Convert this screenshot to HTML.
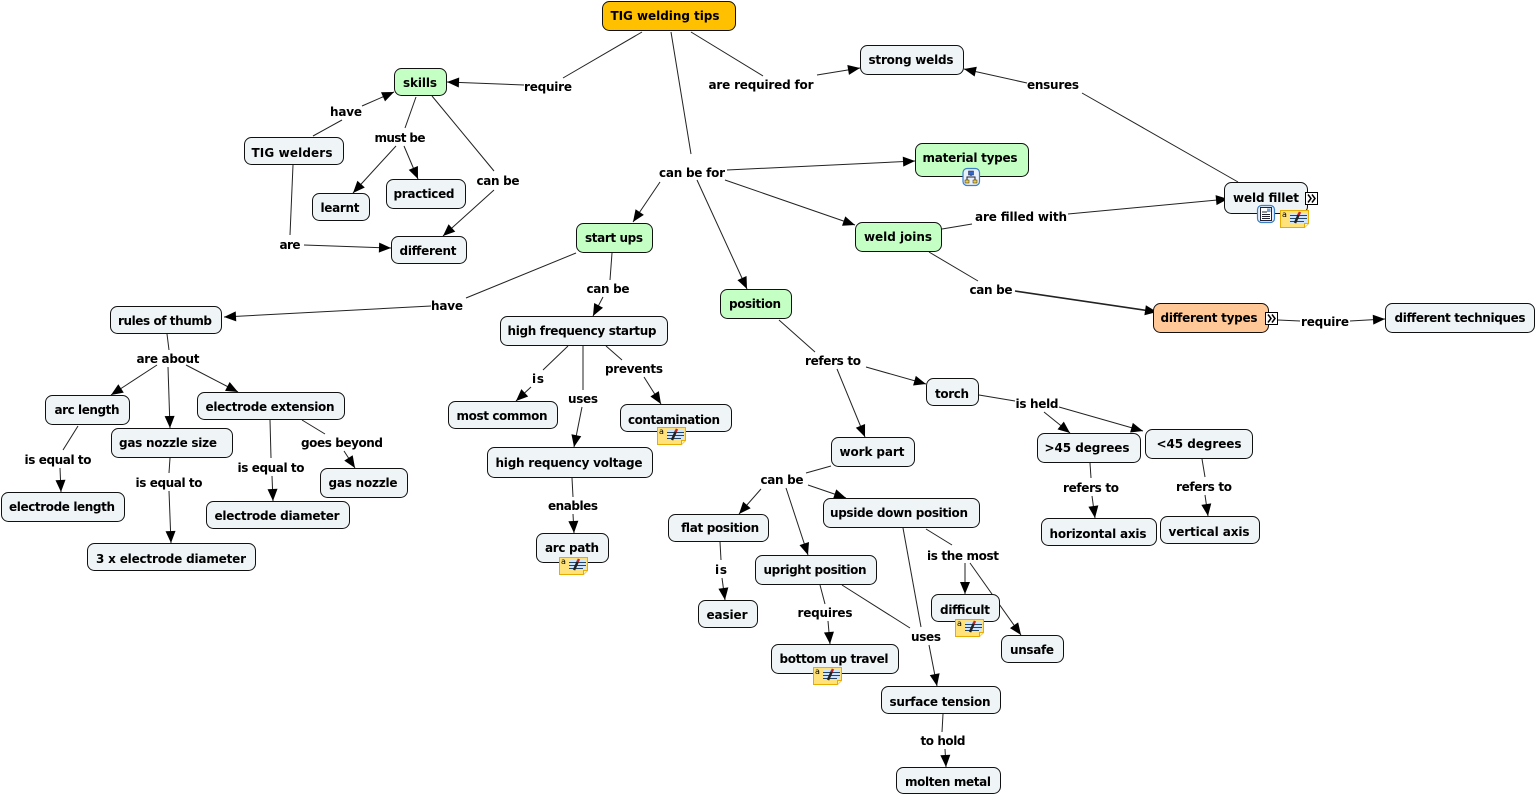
<!DOCTYPE html>
<html><head><meta charset="utf-8"><style>
html,body{margin:0;padding:0;background:#fff;width:1537px;height:795px;overflow:hidden}
svg{display:block}
.n rect{fill:#eff5f7;stroke:#111;stroke-width:1}
.g rect{fill:#c4ffc4}
text{font-family:"DejaVu Sans","Liberation Sans",sans-serif;font-weight:bold;font-size:12px;fill:#000;text-anchor:middle}
.l line{stroke:#222;stroke-width:1;marker-end:none}
.a line{stroke:#222;stroke-width:1;marker-end:url(#ar)}
</style></head><body>
<svg width="1537" height="795" viewBox="0 0 1537 795" xmlns="http://www.w3.org/2000/svg">
<defs>
<marker id="ar" markerUnits="userSpaceOnUse" markerWidth="14" markerHeight="12" refX="13" refY="6" orient="auto"><path d="M1,1 L13,6 L1,11 Z" fill="#000"/></marker>
<g id="note"><path d="M0.5,1.5h28v13l-4,4h-24z" fill="#ffe27a" stroke="#e8ac00"/><path d="M24.5,18.5v-4h4" fill="#fff3c0" stroke="#e8ac00"/><rect x="10" y="4" width="17" height="10" fill="#cfe4ff"/><path d="M10,6.5H27M10,9.5H27M10,12.5H24" stroke="#246" stroke-width="1"/><path d="M15,14L19,5" stroke="#222" stroke-width="2.5"/><path d="M18.5,6L20,3" stroke="#c22" stroke-width="2.5"/><text x="4.5" y="8" style="font-size:8px;font-weight:normal">a</text></g>
<g id="exp"><rect x="0.5" y="0.5" width="12" height="12" fill="#fff" stroke="#000"/><path d="M3,2.5L6,6.5L3,10.5M7,2.5L10,6.5L7,10.5" fill="none" stroke="#000" stroke-width="1.5"/></g>
</defs>
<g class="l">
<line x1="642" y1="32" x2="563" y2="78"/><line x1="691" y1="32" x2="763" y2="76"/><line x1="671" y1="32" x2="691" y2="154"/>
<line x1="313" y1="136" x2="342" y2="120"/><line x1="293" y1="165" x2="290" y2="235"/>
<line x1="416" y1="97" x2="405" y2="128"/><line x1="432" y1="96" x2="494" y2="171"/>
<line x1="1238" y1="182" x2="1082" y2="93"/><line x1="942" y1="229" x2="972" y2="224"/><line x1="929" y1="252" x2="978" y2="281"/>
<line x1="1278" y1="320" x2="1300" y2="321"/><line x1="576" y1="253" x2="466" y2="298"/><line x1="612" y1="253" x2="610" y2="280"/>
<line x1="167" y1="334" x2="169" y2="350"/><line x1="78" y1="426" x2="63" y2="450"/><line x1="170" y1="458" x2="169" y2="473"/>
<line x1="270" y1="420" x2="271" y2="458"/><line x1="302" y1="420" x2="325" y2="434"/><line x1="568" y1="346" x2="543" y2="370"/>
<line x1="583" y1="346" x2="583" y2="390"/><line x1="606" y1="346" x2="622" y2="360"/><line x1="572" y1="478" x2="573" y2="497"/>
<line x1="779" y1="320" x2="815" y2="352"/><line x1="979" y1="395" x2="1015" y2="401"/><line x1="1090" y1="463" x2="1091" y2="478"/>
<line x1="1202" y1="459" x2="1205" y2="477"/><line x1="831" y1="466" x2="806" y2="473"/><line x1="720" y1="542" x2="721" y2="560"/>
<line x1="903" y1="528" x2="921" y2="627"/><line x1="926" y1="529" x2="952" y2="545"/><line x1="842" y1="585" x2="910" y2="628"/>
<line x1="820" y1="585" x2="825" y2="604"/><line x1="943" y1="714" x2="942" y2="732"/>
</g>
<g class="a">
<line x1="524" y1="85" x2="447" y2="82"/><line x1="817" y1="75" x2="860" y2="68"/><line x1="727" y1="170" x2="915" y2="161"/>
<line x1="660" y1="182" x2="633" y2="222"/><line x1="725" y1="180" x2="855" y2="225"/><line x1="697" y1="180" x2="747" y2="289"/>
<line x1="362" y1="106" x2="394" y2="92"/><line x1="304" y1="245" x2="391" y2="248"/><line x1="396" y1="146" x2="353" y2="193"/>
<line x1="404" y1="146" x2="418" y2="179"/><line x1="494" y1="190" x2="443" y2="236"/><line x1="1027" y1="83" x2="964" y2="69"/>
<line x1="1068" y1="214" x2="1228" y2="199"/><line x1="1015" y1="291" x2="1157" y2="312" style="stroke-width:1.6"/><line x1="1350" y1="321" x2="1385" y2="319"/>
<line x1="431" y1="306" x2="224" y2="317"/><line x1="603" y1="297" x2="593" y2="316"/><line x1="157" y1="365" x2="111" y2="395"/>
<line x1="168" y1="367" x2="170" y2="428"/><line x1="186" y1="365" x2="238" y2="392"/><line x1="60" y1="468" x2="61" y2="492"/>
<line x1="169" y1="491" x2="171" y2="543"/><line x1="272" y1="476" x2="273" y2="501"/><line x1="344" y1="451" x2="355" y2="468"/>
<line x1="531" y1="387" x2="516" y2="401"/><line x1="582" y1="407" x2="574" y2="447"/><line x1="644" y1="377" x2="661" y2="404"/>
<line x1="573" y1="514" x2="574" y2="533"/><line x1="866" y1="367" x2="926" y2="384"/><line x1="837" y1="369" x2="865" y2="437"/>
<line x1="1044" y1="412" x2="1070" y2="433"/><line x1="1059" y1="407" x2="1143" y2="431"/><line x1="1092" y1="496" x2="1095" y2="518"/>
<line x1="1205" y1="495" x2="1208" y2="516"/><line x1="761" y1="489" x2="739" y2="514"/><line x1="786" y1="488" x2="808" y2="555"/>
<line x1="808" y1="485" x2="846" y2="498"/><line x1="722" y1="578" x2="725" y2="600"/><line x1="965" y1="563" x2="965" y2="594"/>
<line x1="970" y1="563" x2="1021" y2="635"/><line x1="828" y1="621" x2="830" y2="644"/><line x1="929" y1="645" x2="937" y2="686"/>
<line x1="945" y1="749" x2="946" y2="767"/>
</g>
<g class="n">
<rect x="602.5" y="1.5" width="133" height="29" rx="7" style="fill:#ffc000"/>
<g class="g"><rect x="394.5" y="68.5" width="52" height="27" rx="7"/><rect x="915.5" y="143.5" width="113" height="33" rx="7"/><rect x="576.5" y="223.5" width="76" height="29" rx="7"/><rect x="855.5" y="222.5" width="86" height="29" rx="7"/><rect x="720.5" y="289.5" width="71" height="29" rx="7"/></g>
<rect x="1153.5" y="303.5" width="115" height="29" rx="7" style="fill:#ffc896"/>
<rect x="860.5" y="45.5" width="103" height="29" rx="7"/><rect x="1224.5" y="182.5" width="83" height="31" rx="7"/><rect x="244.5" y="137.5" width="99" height="27" rx="7"/>
<rect x="312.5" y="193.5" width="57" height="27" rx="7"/><rect x="386.5" y="179.5" width="79" height="29" rx="7"/><rect x="391.5" y="236.5" width="75" height="27" rx="7"/>
<rect x="1385.5" y="303.5" width="149" height="29" rx="7"/><rect x="110.5" y="306.5" width="111" height="27" rx="7"/><rect x="500.5" y="316.5" width="167" height="29" rx="7"/>
<rect x="45.5" y="395.5" width="84" height="29" rx="7"/><rect x="197.5" y="392.5" width="147" height="27" rx="7"/><rect x="111.5" y="428.5" width="121" height="29" rx="7"/>
<rect x="448.5" y="401.5" width="109" height="27" rx="7"/><rect x="620.5" y="404.5" width="111" height="27" rx="7"/><rect x="487.5" y="447.5" width="165" height="30" rx="7"/>
<rect x="926.5" y="378.5" width="52" height="27" rx="7"/><rect x="1037.5" y="433.5" width="103" height="29" rx="7"/><rect x="1145.5" y="429.5" width="107" height="29" rx="7"/>
<rect x="831.5" y="437.5" width="83" height="29" rx="7"/><rect x="1.5" y="492.5" width="123" height="29" rx="7"/><rect x="320.5" y="468.5" width="87" height="29" rx="7"/>
<rect x="206.5" y="501.5" width="143" height="27" rx="7"/><rect x="87.5" y="543.5" width="168" height="27" rx="7"/><rect x="536.5" y="533.5" width="72" height="29" rx="7"/>
<rect x="668.5" y="514.5" width="100" height="27" rx="7"/><rect x="823.5" y="498.5" width="156" height="29" rx="7"/><rect x="1041.5" y="518.5" width="115" height="27" rx="7"/>
<rect x="1160.5" y="516.5" width="99" height="27" rx="7"/><rect x="755.5" y="555.5" width="121" height="29" rx="7"/><rect x="698.5" y="600.5" width="59" height="27" rx="7"/>
<rect x="931.5" y="594.5" width="68" height="27" rx="7"/><rect x="1001.5" y="635.5" width="62" height="27" rx="7"/><rect x="771.5" y="644.5" width="127" height="29" rx="7"/>
<rect x="881.5" y="686.5" width="119" height="27" rx="7"/><rect x="896.5" y="767.5" width="104" height="26" rx="7"/>
</g>
<g>
<text x="665" y="20" textLength="109">TIG welding tips</text><text x="420" y="87" textLength="34">skills</text><text x="911" y="64" textLength="85">strong welds</text><text x="970" y="162" textLength="95">material types</text>
<text x="1266" y="202" textLength="66">weld fillet</text><text x="292" y="157" textLength="81">TIG welders</text><text x="340" y="212" textLength="39">learnt</text><text x="424" y="198" textLength="61">practiced</text>
<text x="428" y="255" textLength="57">different</text><text x="614" y="242" textLength="58">start ups</text><text x="898" y="241" textLength="68">weld joins</text><text x="755" y="308" textLength="52">position</text>
<text x="1209" y="322" textLength="97">different types</text><text x="1460" y="322" textLength="131">different techniques</text><text x="165" y="325" textLength="94">rules of thumb</text><text x="582" y="335" textLength="149">high frequency startup</text>
<text x="87" y="414" textLength="65">arc length</text><text x="270" y="411" textLength="129">electrode extension</text><text x="168" y="447" textLength="98">gas nozzle size</text><text x="502" y="420" textLength="91">most common</text>
<text x="674" y="424" textLength="92">contamination</text><text x="569" y="467" textLength="147">high requency voltage</text><text x="952" y="398" textLength="34">torch</text><text x="1087" y="452" textLength="85">&gt;45 degrees</text>
<text x="1199" y="448" textLength="85">&lt;45 degrees</text><text x="872" y="456" textLength="65">work part</text><text x="62" y="511" textLength="106">electrode length</text><text x="363" y="487" textLength="69">gas nozzle</text>
<text x="277" y="520" textLength="125">electrode diameter</text><text x="171" y="563" textLength="150">3 x electrode diameter</text><text x="572" y="552" textLength="54">arc path</text><text x="720" y="532" textLength="78">flat position</text>
<text x="899" y="517" textLength="138">upside down position</text><text x="1098" y="538" textLength="97">horizontal axis</text><text x="1209" y="536" textLength="81">vertical axis</text><text x="815" y="574" textLength="103">upright position</text>
<text x="727" y="619" textLength="41">easier</text><text x="965" y="614" textLength="50">difficult</text><text x="1032" y="654" textLength="44">unsafe</text><text x="834" y="663" textLength="109">bottom up travel</text>
<text x="940" y="706" textLength="101">surface tension</text><text x="948" y="786" textLength="86">molten metal</text>
<text x="548" y="91" textLength="48">require</text><text x="761" y="89" textLength="105">are required for</text><text x="692" y="177" textLength="66">can be for</text><text x="346" y="116" textLength="32">have</text>
<text x="290" y="249" textLength="21">are</text><text x="400" y="142" textLength="51">must be</text><text x="498" y="185" textLength="43">can be</text><text x="1053" y="89" textLength="52">ensures</text>
<text x="1021" y="221" textLength="92">are filled with</text><text x="991" y="294" textLength="43">can be</text><text x="1325" y="326" textLength="48">require</text><text x="447" y="310" textLength="32">have</text>
<text x="608" y="293" textLength="43">can be</text><text x="168" y="363" textLength="63">are about</text><text x="58" y="464" textLength="67">is equal to</text><text x="169" y="487" textLength="67">is equal to</text>
<text x="271" y="472" textLength="67">is equal to</text><text x="342" y="447" textLength="82">goes beyond</text><text x="538" y="383" textLength="12">is</text><text x="583" y="403" textLength="30">uses</text>
<text x="634" y="373" textLength="58">prevents</text><text x="573" y="510" textLength="50">enables</text><text x="833" y="365" textLength="56">refers to</text><text x="1037" y="408" textLength="43">is held</text>
<text x="1091" y="492" textLength="56">refers to</text><text x="1204" y="491" textLength="56">refers to</text><text x="782" y="484" textLength="43">can be</text><text x="721" y="574" textLength="12">is</text>
<text x="963" y="560" textLength="72">is the most</text><text x="825" y="617" textLength="55">requires</text><text x="926" y="641" textLength="30">uses</text><text x="943" y="745" textLength="45">to hold</text>
</g>
<use href="#exp" x="1305" y="192"/><use href="#exp" x="1265" y="312"/>
<use href="#note" x="1280" y="209"/><use href="#note" x="657" y="426"/><use href="#note" x="559" y="556"/><use href="#note" x="955" y="618"/><use href="#note" x="813" y="666"/>
<rect x="1257.5" y="205.5" width="17" height="17" rx="4" fill="#e8f0fa" stroke="#3a7fc8" stroke-width="1.2"/><path d="M1260.5,207.5h11v13h-11z" fill="#fff" stroke="#223"/><path d="M1262,212h5M1262,214.5h8M1262,216.5h8M1262,218.5h8" stroke="#223"/><rect x="1267" y="208.5" width="3.5" height="3.5" fill="#7a9fd0"/>
<rect x="963" y="168.5" width="16.5" height="17" rx="4" fill="#e8f0fa" stroke="#3a7fc8" stroke-width="1.2"/><path d="M971,172v4M967,181v-4h8v4" fill="none" stroke="#223"/><rect x="968.5" y="171" width="5" height="4" fill="#36c" stroke="#223" stroke-width=".5"/><rect x="965" y="180" width="4" height="3" fill="#ec3" stroke="#223" stroke-width=".5"/><rect x="973" y="180" width="4" height="3" fill="#ec3" stroke="#223" stroke-width=".5"/>
</svg>
</body></html>
